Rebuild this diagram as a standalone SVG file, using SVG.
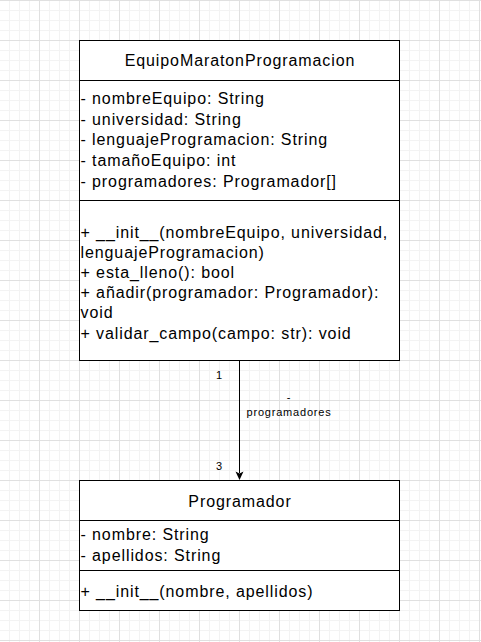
<svg xmlns="http://www.w3.org/2000/svg" width="481" height="642" viewBox="0 0 481 642">
<defs>
<pattern id="minor" width="10" height="10" patternUnits="userSpaceOnUse">
<rect x="9" y="0" width="1" height="10" fill="#f3f3f3"/>
<rect x="0" y="0" width="10" height="1" fill="#f3f3f3"/>
</pattern>
<pattern id="major" width="40" height="40" patternUnits="userSpaceOnUse">
<rect x="39" y="0" width="1" height="40" fill="#e0e0e0"/>
<rect x="0" y="0" width="40" height="1" fill="#e0e0e0"/>
</pattern>
<marker id="arrow" markerWidth="8" markerHeight="9" refX="4" refY="8" orient="auto-start-reverse" markerUnits="userSpaceOnUse" viewBox="0 0 8 9">
<path d="M0.5,0 L4,8 L7.5,0 L4,1.5 Z" fill="#000" transform="rotate(0)"/>
</marker>
</defs>
<style>
.box{fill:#fff;stroke:#000;stroke-width:1}
.sep{stroke:#000;stroke-width:1}
.t{font-family:"Liberation Sans",Arial,sans-serif;font-size:16px;letter-spacing:0.9px;fill:#000}
.h{text-anchor:middle}
.lbl{font-family:"Liberation Sans",Arial,sans-serif;font-size:11px;letter-spacing:0.8px;fill:#000}
</style>
<rect width="481" height="642" fill="#fff"/>
<rect width="481" height="642" fill="url(#minor)"/>
<rect width="481" height="642" fill="url(#major)"/>

<g id="connectors">
<line x1="239.5" y1="360.5" x2="239.5" y2="473" stroke="#000" stroke-width="1"/>
<path d="M235.5,471.5 L239.5,480 L243.5,471.5 L239.5,473.5 Z" fill="#000"/>
<text class="lbl" x="216" y="379">1</text>
<text class="lbl" x="216" y="470">3</text>
<text class="lbl" x="289" y="401" text-anchor="middle">-</text>
<text class="lbl" x="289" y="416" text-anchor="middle">programadores</text>
</g>

<g id="EquipoMaratonProgramacion">
<rect class="box" x="79.5" y="40.5" width="320" height="320"/>
<line class="sep" x1="79.5" y1="80.5" x2="399.5" y2="80.5"/>
<line class="sep" x1="79.5" y1="200.5" x2="399.5" y2="200.5"/>
<text class="t h" x="240" y="65.5">EquipoMaratonProgramacion</text>
<text class="t" x="80.5" y="104">- nombreEquipo: String</text>
<text class="t" x="80.5" y="124.7">- universidad: String</text>
<text class="t" x="80.5" y="145.4">- lenguajeProgramacion: String</text>
<text class="t" x="80.5" y="166.1">- tamañoEquipo: int</text>
<text class="t" x="80.5" y="186.8">- programadores: Programador[]</text>
<text class="t" x="80.5" y="237.5">+ __init__(nombreEquipo, universidad,</text>
<text class="t" x="80.5" y="257.7">lenguajeProgramacion)</text>
<text class="t" x="80.5" y="277.9">+ esta_lleno(): bool</text>
<text class="t" x="80.5" y="298.1">+ añadir(programador: Programador):</text>
<text class="t" x="80.5" y="318.3">void</text>
<text class="t" x="80.5" y="338.5">+ validar_campo(campo: str): void</text>
</g>

<g id="Programador">
<rect class="box" x="79.5" y="480.5" width="320" height="130"/>
<line class="sep" x1="79.5" y1="520.5" x2="399.5" y2="520.5"/>
<line class="sep" x1="79.5" y1="570.5" x2="399.5" y2="570.5"/>
<text class="t h" x="240" y="506.5">Programador</text>
<text class="t" x="80.5" y="540">- nombre: String</text>
<text class="t" x="80.5" y="561">- apellidos: String</text>
<text class="t" x="80.5" y="597">+ __init__(nombre, apellidos)</text>
</g>
</svg>
